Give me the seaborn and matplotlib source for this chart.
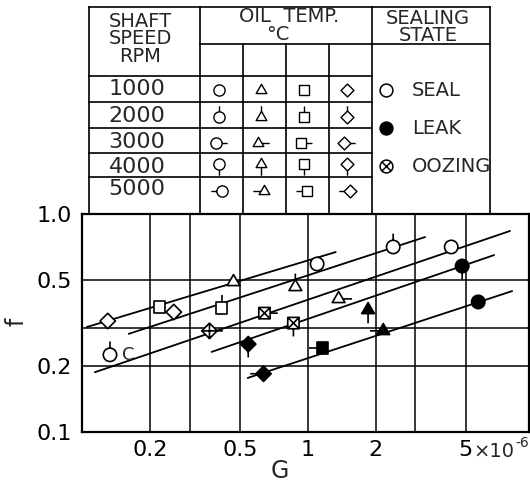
import numpy as np
import pandas as pd
import matplotlib
matplotlib.use("Agg")
import matplotlib.pyplot as plt
from matplotlib.path import Path
from matplotlib.markers import MarkerStyle
from matplotlib.ticker import NullFormatter
import seaborn as sns

# --- values (G in units of 1e-6) ---
point_g = [0.130, 0.221, 0.255, 0.469, 0.415, 0.367, 0.133, 1.10, 0.881, 0.643, 1.37,
           1.85, 0.864, 0.545, 1.16, 0.637, 2.39, 4.32, 4.83, 5.69, 2.16]
point_f = [0.323, 0.374, 0.355, 0.488, 0.371, 0.291, 0.226, 0.590, 0.463, 0.351, 0.408,
           0.363, 0.316, 0.253, 0.243, 0.185, 0.706, 0.706, 0.577, 0.395, 0.291]
point_shape = ["diamond", "square", "diamond", "triangle", "square", "diamond", "circle",
               "circle", "triangle", "square", "triangle", "triangle", "square", "diamond",
               "square", "diamond", "circle", "circle", "circle", "circle", "triangle"]
point_rpm = [1000, 1000, 1000, 1000, 2000, 3000, 2000, 1000, 2000, 3000, 3000,
             4000, 4000, 4000, 5000, 5000, 2000, 1000, 4000, 1000, 5000]
point_state = ["SEAL", "SEAL", "SEAL", "SEAL", "SEAL", "OOZING", "SEAL", "SEAL", "SEAL",
               "OOZING", "SEAL", "LEAK", "OOZING", "LEAK", "LEAK", "LEAK", "SEAL", "SEAL",
               "LEAK", "LEAK", "LEAK"]

# fitted lines (end points)
line_id = ["A", "A", "B", "B", "C", "C", "D", "D", "E", "E"]
line_g = [0.105, 1.33, 0.161, 3.31, 0.114, 7.87, 0.375, 6.69, 0.542, 8.04]
line_f = [0.303, 0.669, 0.282, 0.784, 0.188, 0.836, 0.233, 0.648, 0.177, 0.443]

speeds = [1000, 2000, 3000, 4000, 5000]
shapes = ["circle", "triangle", "square", "diamond"]
states = ["SEAL", "LEAK", "OOZING"]

x_ticks = [0.2, 0.5, 1, 2, 5]
x_ticklabels = ["0.2", "0.5", "1", "2", "5"]
y_ticks = [0.1, 0.2, 0.5, 1.0]
y_ticklabels = ["0.1", "0.2", "0.5", "1.0"]
x_grid = [0.2, 0.3, 0.5, 1, 2, 3, 5]
y_grid = [0.2, 0.3, 0.5]

# --- marker construction: shape + rpm stem (+ cross for oozing) ---
STEM_END = 2.0
stem_dir = {1000: None, 2000: (0, 1), 3000: (1, 0), 4000: (0, -1), 5000: (-1, 0)}


def shape_outline(shape):
    """Vertices/codes of the outline and distance from centre to edge per direction."""
    if shape == "circle":
        c = Path.unit_circle()
        edge = {(0, 1): 1, (1, 0): 1, (0, -1): 1, (-1, 0): 1}
        cross = [((-0.71, -0.71), (0.71, 0.71)), ((-0.71, 0.71), (0.71, -0.71))]
        return list(c.vertices), list(c.codes), edge, cross
    if shape == "triangle":
        r = 1.1
        pts = [(0, r), (-0.866 * r, -0.5 * r), (0.866 * r, -0.5 * r)]
        edge = {(0, 1): r, (1, 0): 0.58 * r, (0, -1): 0.5 * r, (-1, 0): 0.58 * r}
        cross = [((-0.3, -0.3), (0.3, 0.3)), ((-0.3, 0.3), (0.3, -0.3))]
    elif shape == "square":
        h = 0.85
        pts = [(-h, -h), (h, -h), (h, h), (-h, h)]
        edge = {(0, 1): h, (1, 0): h, (0, -1): h, (-1, 0): h}
        cross = [((-h, -h), (h, h)), ((-h, h), (h, -h))]
    else:
        d = 1.15
        pts = [(0, d), (-d, 0), (0, -d), (d, 0)]
        edge = {(0, 1): d, (1, 0): d, (0, -1): d, (-1, 0): d}
        cross = [((-d, 0), (d, 0)), ((0, -d), (0, d))]
    verts = pts + [pts[0]]
    codes = [Path.MOVETO] + [Path.LINETO] * (len(pts) - 1) + [Path.CLOSEPOLY]
    return verts, codes, edge, cross


def build_marker(shape, rpm, oozing):
    verts, codes, edge, cross = shape_outline(shape)
    # invisible point so that every marker is normalised to the same extent
    verts = [(STEM_END, 0)] + verts
    codes = [Path.MOVETO] + codes
    d = stem_dir[rpm]
    if d is not None:
        e = edge[d]
        verts += [(d[0] * e, d[1] * e), (d[0] * STEM_END, d[1] * STEM_END)]
        codes += [Path.MOVETO, Path.LINETO]
    if oozing:
        for a, b in cross:
            verts += [a, b]
            codes += [Path.MOVETO, Path.LINETO]
    return MarkerStyle(Path(np.array(verts, float), codes))


points = pd.DataFrame({"G": point_g, "f": point_f, "shape": point_shape,
                       "rpm": point_rpm, "state": point_state})
points["key"] = [f"{s}-{r}-{st == 'OOZING'}" for s, r, st in
                 zip(points["shape"], points["rpm"], points["state"])]
marker_map = {}
for s, r, st in zip(point_shape, point_rpm, point_state):
    marker_map[f"{s}-{r}-{st == 'OOZING'}"] = build_marker(s, r, st == "OOZING")

lines = pd.DataFrame({"line": line_id, "G": line_g, "f": line_f})
state_fill = {"SEAL": "white", "LEAK": "black", "OOZING": "white"}

# --- figure ---
sns.set_style("white")
plt.rcParams["font.family"] = ["DejaVu Sans"]
fig = plt.figure(figsize=(5.3, 4.86), dpi=100)
W, H = 530, 486

ax = fig.add_axes([82 / W, 1 - 432 / H, (529 - 82) / W, (432 - 214) / H])
ax.set(xscale="log", yscale="log")
ax.set_xlim(0.1, 9.55)
ax.set_ylim(0.1, 1.0)

sns.lineplot(data=lines, x="G", y="f", units="line", estimator=None, sort=False,
             color="black", linewidth=1.3, ax=ax, zorder=2)
sns.scatterplot(data=points, x="G", y="f", hue="state", palette=state_fill,
                style="key", markers=marker_map, s=370, edgecolor="black",
                linewidth=1.2, legend=False, ax=ax, zorder=3)
ax.text(0.161, 0.226, "C", fontsize=13, ha="center", va="center")

ax.set_xticks(x_ticks, labels=x_ticklabels)
ax.set_xticks(x_grid, minor=True)
ax.set_yticks(y_ticks, labels=y_ticklabels)
ax.set_yticks(y_grid, minor=True)
ax.xaxis.remove_overlapping_locs = False
ax.yaxis.remove_overlapping_locs = False
ax.xaxis.set_minor_formatter(NullFormatter())
ax.yaxis.set_minor_formatter(NullFormatter())
ax.tick_params(which="both", length=0, labelsize=16, colors="black")
ax.tick_params(axis="x", pad=6)
ax.tick_params(axis="y", pad=7)
ax.grid(which="minor", color="black", linewidth=1.1)
ax.grid(which="major", visible=False)
for sp in ax.spines.values():
    sp.set_color("black")
    sp.set_linewidth(1.6)
ax.set_xlabel("")
ax.set_ylabel("")
# unit suffix next to the "5" tick label
ax.annotate("×10", xy=(5, 0), xycoords=("data", "axes fraction"),
            xytext=(5.5, -18), textcoords="offset points", fontsize=14,
            ha="left", va="baseline")
ax.annotate("-6", xy=(5, 0), xycoords=("data", "axes fraction"),
            xytext=(36, -11), textcoords="offset points", fontsize=10,
            ha="left", va="baseline")
fig.text(280 / W, 1 - 471 / H, "G", fontsize=17, ha="center", va="center")
fig.text(17 / W, 1 - 322 / H, "f", fontsize=17, ha="center", va="center", rotation=90)

# --- key table above the plot (pixel coordinates) ---
tab = fig.add_axes([0, 0, 1, 1])
tab.set_xlim(0, W)
tab.set_ylim(H, 0)
tab.axis("off")
lw = 1.2
col_x = [200, 243, 286, 329, 372]
row_y = [102, 128, 153, 177]
seg = [((89, 490), (7, 7)), ((200, 490), (44, 44)), ((89, 372), (76, 76))]
seg += [((89, 372), (y, y)) for y in row_y]
seg += [((89, 89), (7, 214)), ((200, 200), (7, 214)), ((372, 372), (7, 214)),
        ((490, 490), (7, 214))]
seg += [((x, x), (44, 214)) for x in col_x[1:4]]
for xs, ys in seg:
    tab.plot(xs, ys, color="black", linewidth=lw, solid_capstyle="projecting")

hdr = dict(fontsize=14, ha="center", va="center", linespacing=0.88,
           multialignment="center")
tab.text(140, 39, "SHAFT\nSPEED\nRPM", **hdr)
tab.text(289, 17, "OIL  TEMP.", **hdr)
tab.text(278, 35, "°C", fontsize=14, ha="center", va="center")
tab.text(428, 27, "SEALING\nSTATE", **hdr)

row_text_y = [89, 116, 142, 167, 189]
row_mark_y = [90, 117, 143, 164, 191]
row_dx = {1000: 0, 2000: 0, 3000: -3, 4000: 0, 5000: 3}
shape_x = [219, 261, 304, 347]
for rpm, ty, my in zip(speeds, row_text_y, row_mark_y):
    tab.text(137, ty, str(rpm), fontsize=16, ha="center", va="center")
    for shp, sx in zip(shapes, shape_x):
        tab.scatter(sx + row_dx[rpm], my, marker=build_marker(shp, rpm, False), s=260,
                    facecolor="white", edgecolor="black", linewidth=1.0)

legend_y = [90, 128, 166]
for st, ly in zip(states, legend_y):
    tab.scatter(386, ly, marker=build_marker("circle", 1000, st == "OOZING"), s=340,
                facecolor=state_fill[st], edgecolor="black", linewidth=1.1)
    tab.text(412, ly, st, fontsize=14, ha="left", va="center")

fig.savefig("out.png", dpi=100)
